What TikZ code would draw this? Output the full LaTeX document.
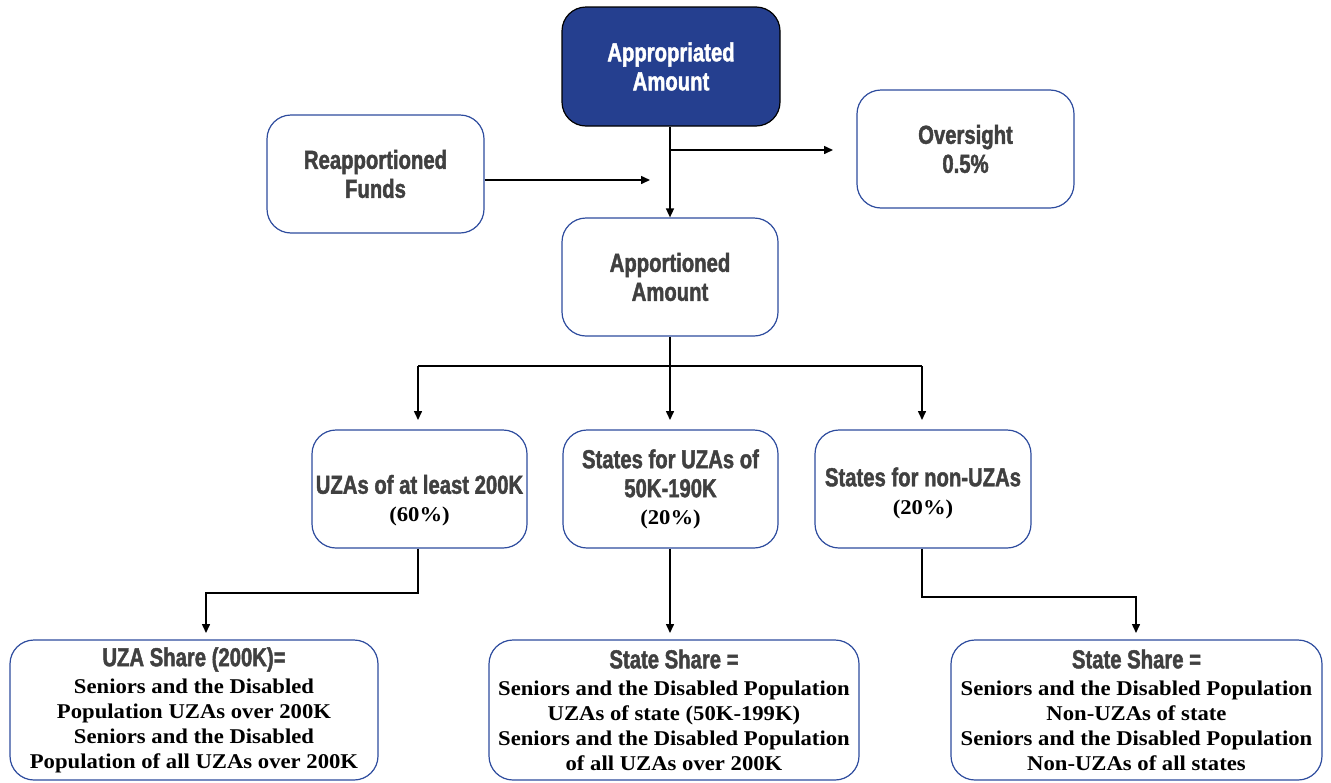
\documentclass[tikz,border=0pt]{standalone}
\usepackage{fontspec}
\setmainfont[FakeStretch=1.08]{Liberation Serif}
\newfontfamily\headfont[FakeStretch=0.78,FakeBold=1.6]{Liberation Sans Bold}
\usetikzlibrary{arrows.meta}
\definecolor{navy}{HTML}{253F8F}
\definecolor{boxblue}{HTML}{2E4C9E}
\definecolor{headgray}{HTML}{404040}
\tikzset{
  x=1pt,y=-1pt,
  box/.style={draw=boxblue,line width=1.2pt,rounded corners=24pt,fill=white,align=center,inner sep=0pt},
  hdbox/.style={box,font=\headfont\fontsize{26}{29}\selectfont,text=headgray},
  mixbox/.style={box,font=\bfseries\fontsize{21}{25}\selectfont},
  conn/.style={line width=1.5pt,-{Triangle[length=9pt,width=8pt]}},
  plain/.style={line width=1.5pt},
}
\newcommand{\hx}[1]{{\headfont\fontsize{26}{29}\selectfont\color{headgray}#1}}
\begin{document}
\begin{tikzpicture}
\useasboundingbox (0,0) rectangle (1331,782);
% top row
\node[hdbox,draw=black,fill=navy,minimum width=218pt,minimum height=119pt,text=white] (appr) at (671,66.5) {Appropriated\\Amount};
\node[hdbox,minimum width=217pt,minimum height=118pt] (reap) at (375.5,174) {Reapportioned\\Funds};
\node[hdbox,minimum width=217pt,minimum height=118pt] (over) at (965.5,149) {Oversight\\0.5\%};
\node[hdbox,minimum width=216pt,minimum height=118pt] (appo) at (670,277) {Apportioned\\Amount};
% middle row
\node[mixbox,minimum width=215pt,minimum height=118pt] (uza) at (419.5,489) {\rule{0pt}{42pt}\hx{UZAs of at least 200K}\\[3pt](60\%)};
\node[mixbox,minimum width=215pt,minimum height=118pt] (st50) at (670.5,489) {\hx{States for UZAs of}\\[4pt]\hx{50K-190K}\\[2pt](20\%)};
\node[mixbox,minimum width=216pt,minimum height=118pt] (non) at (923,489) {\rule{0pt}{27pt}\hx{States for non-UZAs}\\[3pt](20\%)};
% bottom row
\node[mixbox,minimum width=368pt,minimum height=140pt] (b1) at (194,710) {\hx{UZA Share (200K)=}\\[2pt]Seniors and the Disabled\\Population UZAs over 200K\\Seniors and the Disabled\\Population of all UZAs over 200K};
\node[mixbox,minimum width=370pt,minimum height=140pt] (b2) at (674,710) {\hx{State Share =}\\[2pt]Seniors and the Disabled Population\\UZAs of state (50K-199K)\\Seniors and the Disabled Population\\of all UZAs over 200K};
\node[mixbox,minimum width=371pt,minimum height=140pt] (b3) at (1136.5,710) {\hx{State Share =}\\[2pt]Seniors and the Disabled Population\\Non-UZAs of state\\Seniors and the Disabled Population\\Non-UZAs of all states};
% connectors
\coordinate (tap) at (670,150);
\coordinate (rj) at (650,180);
\coordinate (oj) at (833,150);
\draw[conn] (appr.south -| appo.north) -- (appo.north);
\draw[conn] (tap) -- (oj);
\draw[conn] (reap.east |- rj) -- (rj);
\coordinate (split) at (670,366);
\draw[plain] (appo.south) -- (split);
\draw[plain] (418,366) -- (922,366);
\draw[conn] (418,366) -- (418,420);
\draw[conn] (split) -- (670,420);
\draw[conn] (922,366) -- (922,420);
\draw[conn] (uza.south -| 418,0) -- (418,593) -- (206,593) -- (206,633);
\draw[conn] (st50.south -| 670,0) -- (670,633);
\draw[conn] (non.south -| 922,0) -- (922,597) -- (1136,597) -- (1136,633);
\end{tikzpicture}
\end{document}
